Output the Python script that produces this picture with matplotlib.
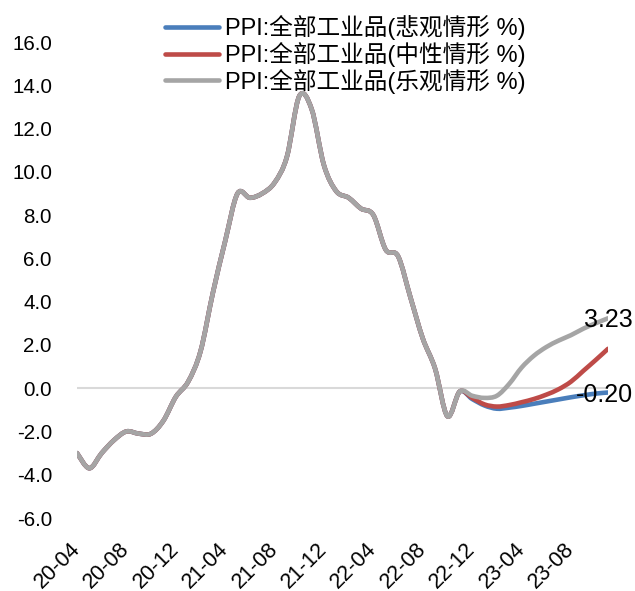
import matplotlib
matplotlib.use('Agg')
import matplotlib.pyplot as plt
from matplotlib.path import Path
from matplotlib.patches import PathPatch
import numpy as np

plt.rcParams['font.family'] = ['Liberation Sans', 'Noto Sans CJK SC', 'DejaVu Sans']

# Monthly labels 2020-04 .. 2023-11
months = [f'{y % 100:02d}-{m:02d}' for y in range(2020, 2024) for m in range(1, 13)]
months = months[3:3 + 44]

# History (shared by all scenarios), 2020-04 .. 2022-11
history = [-3.0, -3.7, -3.0, -2.4, -2.0, -2.1, -2.1, -1.5, -0.4,
           0.3, 1.7, 4.4, 6.8, 9.0, 8.8, 9.0, 9.5, 10.7, 13.5, 12.9, 10.3,
           9.1, 8.8, 8.3, 8.0, 6.4, 6.1, 4.2, 2.3, 0.9, -1.3, -0.15]

# Scenario forecasts, 2022-12 .. 2023-11
pessimistic = [-0.5, -0.8, -0.95, -0.9, -0.82, -0.72, -0.62, -0.52, -0.42, -0.33, -0.25, -0.20]
neutral = [-0.45, -0.75, -0.85, -0.78, -0.65, -0.5, -0.3, -0.05, 0.3, 0.8, 1.3, 1.82]
optimistic = [-0.35, -0.45, -0.35, 0.2, 0.95, 1.5, 1.9, 2.2, 2.45, 2.75, 3.0, 3.23]

labels = ['PPI:全部工业品(悲观情形 %)', 'PPI:全部工业品(中性情形 %)', 'PPI:全部工业品(乐观情形 %)']
colors = ['#4A7EBB', '#BE4B48', '#A5A5A5']


def smooth_path(xs, ys):
    # Excel-style smoothed line: cubic bezier through the data points
    pts = np.column_stack([xs, ys]).astype(float)
    verts = [pts[0]]
    codes = [Path.MOVETO]
    n = len(pts)
    for i in range(n - 1):
        p0 = pts[max(i - 1, 0)]
        p1 = pts[i]
        p2 = pts[i + 1]
        p3 = pts[min(i + 2, n - 1)]
        verts += [p1 + (p2 - p0) / 6, p2 - (p3 - p1) / 6, p2]
        codes += [Path.CURVE4] * 3
    return Path(verts, codes)


fig = plt.figure(figsize=(6.35, 5.91), dpi=100)
ax = fig.add_axes([77 / 635, 1 - 518 / 591, (608 - 77) / 635, (518 - 42) / 591])

x = np.arange(len(months))
ax.axhline(0, color='#D9D9D9', lw=1.5, zorder=1)
for series, lab, col in zip([pessimistic, neutral, optimistic], labels, colors):
    ax.add_patch(PathPatch(smooth_path(x, history + series), fill=False, edgecolor=col,
                           lw=3.3, joinstyle='round', capstyle='round', zorder=2))
    ax.plot([], [], color=col, lw=3.3, solid_capstyle='round', label=lab)

for v in [optimistic[-1], pessimistic[-1]]:
    ax.annotate(f'{v:.2f}', (x[-1], v), xytext=(18, -1.5), textcoords='offset points',
                ha='right', va='center', fontsize=18)

ax.set_xlim(0, len(months) - 1)
ax.set_ylim(-6, 16)
ax.set_yticks(np.arange(-6, 17, 2))
ax.set_yticklabels([f'{v:.1f}' for v in np.arange(-6, 17, 2)], fontsize=14.8)
ax.set_xticks(x[::4])
ax.set_xticklabels(months[::4], fontsize=15.5, rotation=45, ha='right', va='center',
                   rotation_mode='anchor')
ax.tick_params(axis='both', length=0)
ax.tick_params(axis='y', pad=18)
ax.tick_params(axis='x', pad=20)
for s in ax.spines.values():
    s.set_visible(False)

fig.legend(loc='upper left', bbox_to_anchor=(165 / 635, 1 - 15 / 591), frameon=False,
           fontsize=17, handlelength=2.3, handletextpad=0.25, labelspacing=0.08,
           borderpad=0, borderaxespad=0)

fig.savefig('out.png', dpi=100)
